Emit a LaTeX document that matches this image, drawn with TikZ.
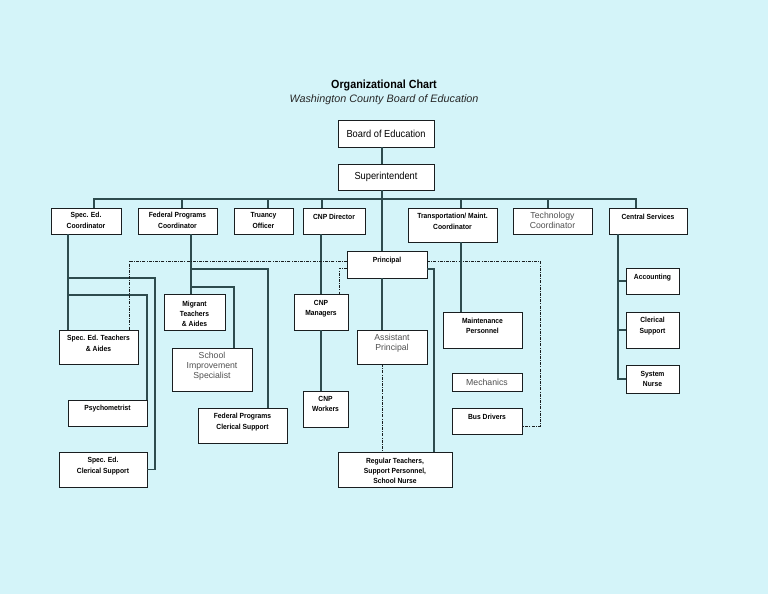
\documentclass[tikz,border=0pt]{standalone}
\usepackage{fontspec}
\setmainfont{Liberation Sans}
\newfontfamily\narrowf[FakeStretch=0.91]{Liberation Sans}
\definecolor{bgc}{RGB}{212,244,249}
\definecolor{linec}{RGB}{45,75,78}
\definecolor{boxc}{RGB}{25,30,32}
\definecolor{grayt}{RGB}{80,80,80}
\tikzset{
  box/.style={draw=boxc,fill=white,line width=0.9pt,rectangle,inner sep=0pt,outer sep=0pt},
  bt/.style={font=\narrowf\fontsize{7.4}{10.3}\selectfont\bfseries,align=center,text=black,inner sep=0pt},
  gt/.style={font=\fontsize{8.7}{10}\selectfont,align=center,text=grayt,inner sep=0pt},
  rt/.style={font=\narrowf\fontsize{10.2}{11}\selectfont,align=center,text=black,inner sep=0pt},
  conn/.style={draw=linec,line width=1.1pt},
  dd/.style={draw=boxc,line width=1pt,dash pattern=on 3pt off 1.2pt on 0.9pt off 1.2pt}
}
% #1 text yshift, #2 name, #3 text style, #4-#7 x1 y1 x2 y2, #8 text
\newcommand\mkbox[8][0]{%
  \pgfmathsetmacro\bw{#6-#4}\pgfmathsetmacro\bh{#7-#5}%
  \pgfmathsetmacro\bcx{(#4+#6)/2}\pgfmathsetmacro\bcy{(#5+#7)/2}%
  \node[box,minimum width=\bw pt,minimum height=\bh pt,
        label={[#3,yshift=#1pt]center:{#8}}] (#2) at (\bcx,\bcy) {};}
\begin{document}
\begin{tikzpicture}[x=1pt,y=-1pt]
\useasboundingbox (0,0) rectangle (768,594);
\fill[bgc] (0,0) rectangle (768,594);

\node[font=\narrowf\fontsize{11.8}{12}\selectfont\bfseries,inner sep=0pt] (title) at (384,85) {Organizational Chart};
\node[font=\fontsize{10.8}{12}\selectfont\itshape,text=black!85,inner sep=0pt] (subt) at (384,100) {Washington County Board of Education};

\coordinate (tx) at (382,0);

\mkbox{boe}{rt}{338}{120}{434}{147}{Board of Education}
\mkbox{sup}{rt}{338}{164}{434}{190}{Superintendent}
\mkbox[0.5]{sec}{bt}{51}{208}{121}{234}{Spec. Ed.\\Coordinator}
\mkbox[0.5]{fpc}{bt}{138}{208}{217}{234}{Federal Programs\\Coordinator}
\mkbox[0.5]{tru}{bt}{234}{208}{293}{234}{Truancy\\Officer}
\mkbox[4]{cnpd}{bt}{303}{208}{365}{234}{CNP Director}
\mkbox[3.5]{trans}{bt}{408}{208}{497}{242}{Transportation/ Maint.\\Coordinator}
\mkbox[0.5]{tech}{gt}{513}{208}{592}{234}{Technology\\Coordinator}
\mkbox[4]{cs}{bt}{609}{208}{687}{234}{Central Services}
\mkbox[3.5]{prin}{bt}{347}{251}{427}{278}{Principal}
\mkbox[3.5]{set}{bt}{59}{330}{138}{364}{Spec. Ed. Teachers\\\& Aides}
\mkbox[4]{psy}{bt}{68}{400}{147}{426}{Psychometrist}
\mkbox[3.5]{sedcs}{bt}{59}{452}{147}{487}{Spec. Ed.\\Clerical Support}
\mkbox[-2]{mig}{bt}{164}{294}{225}{330}{Migrant\\Teachers\\\& Aides}
\mkbox[3.5]{sis}{gt}{172}{348}{252}{391}{School\\Improvement\\Specialist}
\mkbox[3.5]{fpcs}{bt}{198}{408}{287}{443}{Federal Programs\\Clerical Support}
\mkbox[3]{cnpm}{bt}{294}{294}{348}{330}{CNP\\Managers}
\mkbox[5]{cnpw}{bt}{303}{391}{348}{427}{CNP\\Workers}
\mkbox[4]{ap}{gt}{357}{330}{427}{364}{Assistant\\Principal}
\mkbox[-1.5]{rtn}{bt}{338}{452}{452}{487}{Regular Teachers,\\Support Personnel,\\School Nurse}
\mkbox[4]{maint}{bt}{443}{312}{522}{348}{Maintenance\\Personnel}
\mkbox[0]{mech}{gt}{452}{373}{522}{391}{Mechanics}
\mkbox[4]{bd}{bt}{452}{408}{522}{434}{Bus Drivers}
\mkbox[3]{acc}{bt}{626}{268}{679}{294}{Accounting}
\mkbox[4]{cler}{bt}{626}{312}{679}{348}{Clerical\\Support}
\mkbox[0]{nurse}{bt}{626}{365}{679}{393}{System\\Nurse}

% top chain
\draw[conn] (boe.south -| tx) -- (sup.north -| tx);
\draw[conn] (sup.south -| tx) -- (prin.north -| tx);
% bus
\draw[conn] ([xshift=8pt]sec.north) -- ++(0,-9) -| ([xshift=-12pt]cs.north);
\draw[conn] ([xshift=4.5pt]fpc.north) -- ++(0,-9);
\draw[conn] ([xshift=4.5pt]tru.north) -- ++(0,-9);
\draw[conn] ([xshift=-12pt]cnpd.north) -- ++(0,-9);
\draw[conn] ([xshift=8.5pt]trans.north) -- ++(0,-9);
\draw[conn] ([xshift=-4.5pt]tech.north) -- ++(0,-9);

% Spec. Ed.
\coordinate (se) at ([xshift=17pt]sec.south west);
\draw[conn] (se) -- (se |- set.north);
\coordinate (seA) at (68,278);
\coordinate (seB) at (68,295);
\draw[conn] (seA) -| ([xshift=8pt]sedcs.east) -- (sedcs.east);
\draw[conn] (seB) -| (psy.north east);

% Federal programs
\coordinate (fp) at ([xshift=53pt]fpc.south west);
\draw[conn] (fp) -- (fp |- mig.north);
\coordinate (fpA) at (191,269);
\coordinate (fpB) at (191,287);
\draw[conn] (fpA) -| ([xshift=25.5pt]fpcs.north);
\draw[conn] (fpB) -| ([xshift=22pt]sis.north);

% CNP
\draw[conn] (cnpm.north) -- (cnpm.north |- cnpd.south);
\draw[conn] (cnpm.south -| cnpm.north) -- (cnpw.north -| cnpm.north);

% Principal
\draw[conn] (prin.south -| tx) -- (ap.north -| tx);
\draw[conn] ([yshift=-4.5pt]prin.east) -| ([xshift=39pt]rtn.north);
\draw[dd] (ap.south -| tx) -- (rtn.north -| tx);
\draw[dd] ([yshift=3.5pt]prin.west) -| ([xshift=30.5pt]set.north);
\draw[dd] ([yshift=-3.5pt]prin.west) -| ([xshift=18pt]cnpm.north);
\draw[dd] ([yshift=3.5pt]prin.east) -| ([xshift=18pt,yshift=-5pt]bd.east) -- ([yshift=-5pt]bd.east);

% Transportation
\draw[conn] ([xshift=8.5pt]trans.south) -- ([xshift=-21.5pt]maint.north);

% Central services
\coordinate (csx) at ([xshift=9pt]cs.south west);
\draw[conn] (csx) |- (nurse.west);
\draw[conn] (csx |- acc.west) -- (acc.west);
\draw[conn] (csx |- cler.west) -- (cler.west);
\end{tikzpicture}
\end{document}
